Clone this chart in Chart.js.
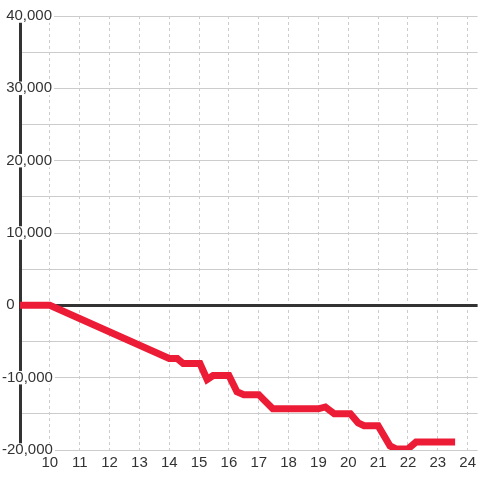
<!DOCTYPE html>
<html>
<head>
<meta charset="utf-8">
<script src="https://cdn.jsdelivr.net/npm/chart.js@4/dist/chart.umd.min.js"></script>
<style>
  html, body { margin: 0; padding: 0; background: #fff; }
  #wrap { width: 480px; height: 480px; }
</style>
</head>
<body>
<div id="wrap"><canvas id="chart" width="480" height="480"></canvas></div>
<script>
// hours of the day and the running balance at each point
const hours = [9, 10, 14, 14.27, 14.47, 15.03, 15.27, 15.47, 16.0, 16.27, 16.5, 17.0, 17.13, 17.47,
    19.0, 19.23, 19.53, 20.07, 20.33, 20.53, 21.0, 21.4, 21.6, 22.0, 22.27, 23.58];
const balance = [0, 0, -7350, -7350, -8050, -8050, -10250, -9700, -9700, -11950, -12350, -12350, -12900, -14300,
    -14300, -14050, -15000, -15000, -16250, -16650, -16650, -19450, -19850, -19850, -18900, -18900];

const xTicks = [10, 11, 12, 13, 14, 15, 16, 17, 18, 19, 20, 21, 22, 23, 24];
const yTicks = [-20000, -15000, -10000, -5000, 0, 5000, 10000, 15000, 20000, 25000, 30000, 35000, 40000];
const yLabelled = [-20000, -10000, 0, 10000, 20000, 30000, 40000];

const points = hours.map((h, i) => ({ x: h, y: balance[i] }));

const textColor = '#333333';
const gridColor = '#cccccc';

new Chart(document.getElementById('chart'), {
    type: 'line',
    data: {
        datasets: [{
            data: points,
            borderColor: '#ed1c36',
            borderWidth: 7,
            pointRadius: 0,
            tension: 0,
            fill: false
        }]
    },
    options: {
        responsive: false,
        animation: false,
        layout: { padding: { top: 16, left: 20, right: 0, bottom: 4 } },
        plugins: { legend: { display: false }, tooltip: { enabled: false } },
        scales: {
            x: {
                type: 'linear',
                min: 9,
                max: 24 + 1 / 3,
                afterBuildTicks: scale => { scale.ticks = xTicks.map(v => ({ value: v })); },
                grid: { color: gridColor, lineWidth: 1, drawTicks: false },
                border: { display: false, dash: [3, 3] },
                ticks: {
                    color: textColor,
                    padding: 4,
                    maxRotation: 0,
                    autoSkip: false,
                    font: { family: 'Liberation Sans, Arial, sans-serif', size: 15 }
                }
            },
            y: {
                type: 'linear',
                min: -20000,
                max: 40000,
                afterBuildTicks: scale => { scale.ticks = yTicks.map(v => ({ value: v })); },
                afterFit: scale => { scale.width = 0; },
                grid: {
                    drawTicks: false,
                    color: ctx => ctx.tick && ctx.tick.value === 0 ? '#333333' : gridColor,
                    lineWidth: ctx => ctx.tick && ctx.tick.value === 0 ? 3 : 1
                },
                border: { display: true, color: '#333333', width: 3 },
                ticks: {
                    mirror: true,
                    padding: -18,
                    color: textColor,
                    autoSkip: false,
                    font: { family: 'Liberation Sans, Arial, sans-serif', size: 15, lineHeight: 0.9 },
                    showLabelBackdrop: true,
                    backdropColor: ctx => yLabelled.includes(ctx.tick.value) ? '#ffffff' : 'rgba(0,0,0,0)',
                    backdropPadding: { left: 0, right: 2, top: 0, bottom: 0 },
                    callback: v => {
                        if (!yLabelled.includes(v)) return '';
                        const s = Math.abs(v).toLocaleString('en-US');
                        return v < 0 ? '-' + s : ' ' + s;
                    }
                }
            }
        }
    }
});
</script>
</body>
</html>
